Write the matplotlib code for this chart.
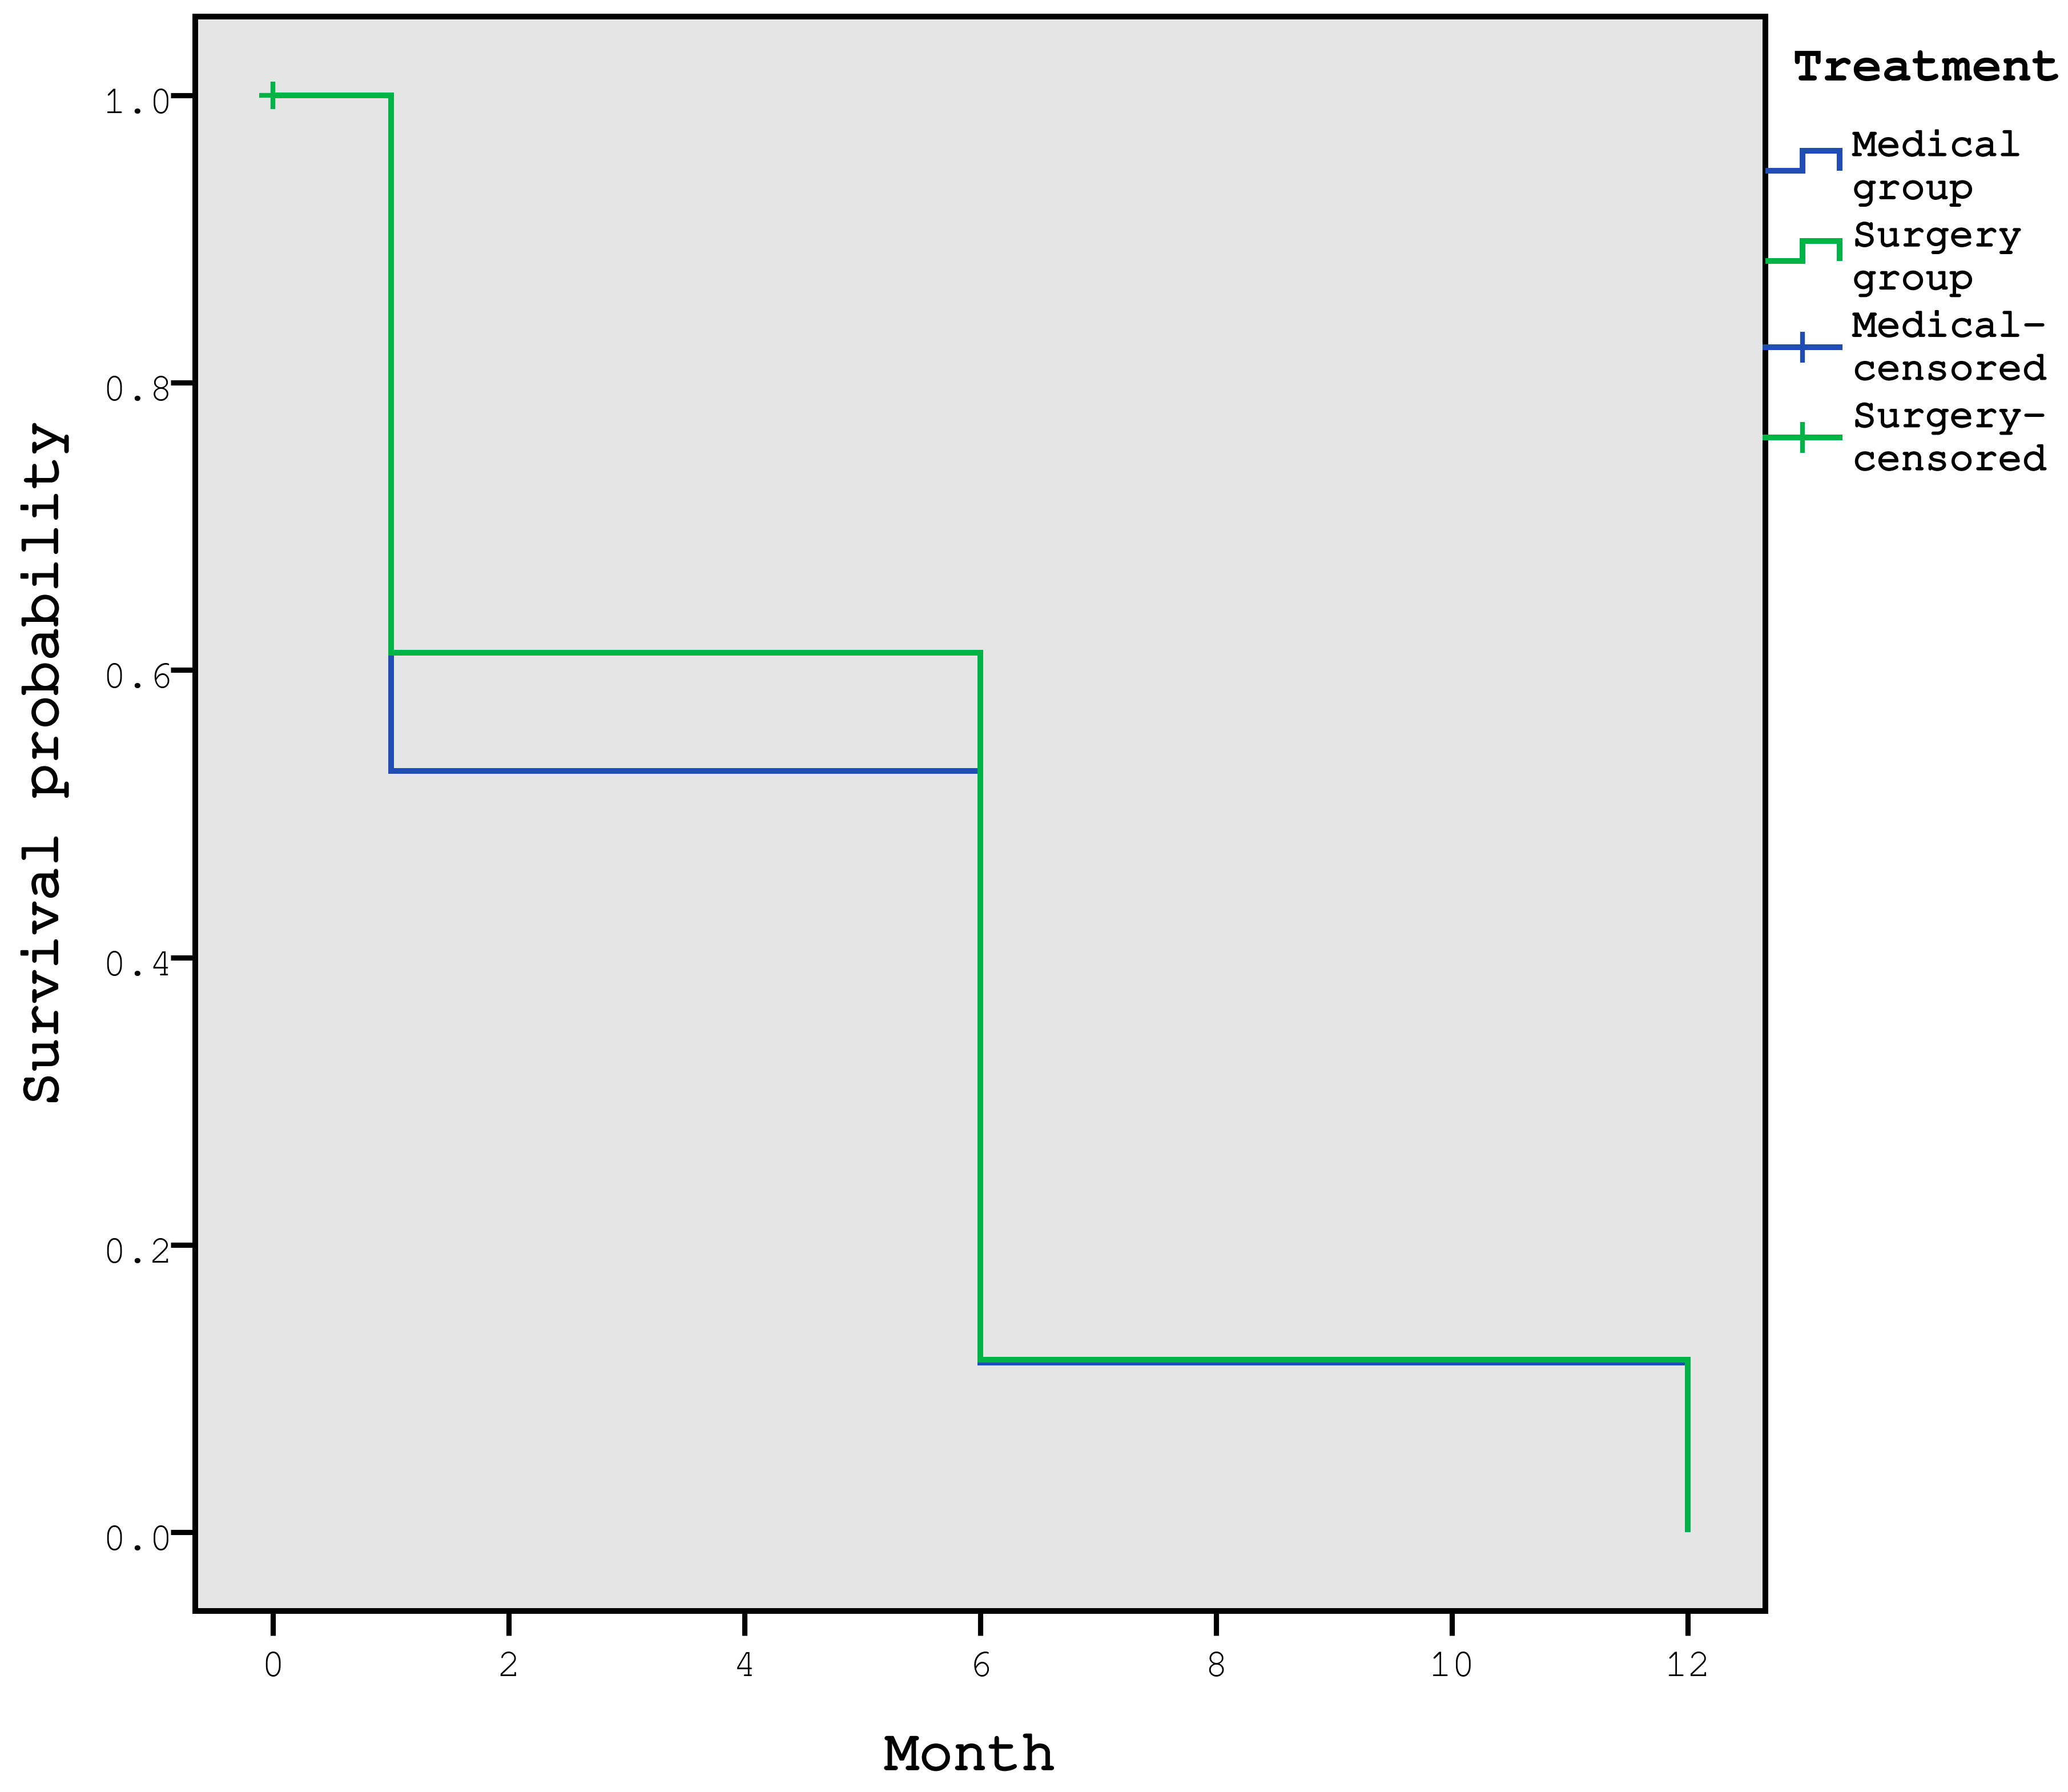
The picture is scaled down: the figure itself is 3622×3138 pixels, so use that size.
import numpy as np
import matplotlib
matplotlib.use("Agg")
import matplotlib.pyplot as plt
import matplotlib.font_manager as fm
import matplotlib.patheffects as pe
from matplotlib.lines import Line2D
from matplotlib.legend_handler import HandlerBase
from matplotlib.transforms import ScaledTranslation

# Kaplan-Meier estimates
months = [0, 1, 6, 12]
medical_surv = [1.0, 0.530, 0.118, 0.0]
surgery_surv = [1.0, 0.612, 0.120, 0.0]
surgery_censor_month = [0]
surgery_censor_surv = [1.0]

group_labels = ["Medical\ngroup", "Surgery\ngroup"]
censor_labels = ["Medical-\ncensored", "Surgery-\ncensored"]
x_ticks = [0, 2, 4, 6, 8, 10, 12]
y_ticks = [0.0, 0.2, 0.4, 0.6, 0.8, 1.0]

blue = "#1f4db4"
green = "#00b347"

# pick a courier-like font if one is there
available = {f.name for f in fm.fontManager.ttflist}
label_font = "Liberation Mono"
for name in ["Courier New", "Nimbus Mono PS", "FreeMono", "Courier"]:
    if name in available:
        label_font = name
        break
tick_font = label_font

# regular courier is too thin, thicken it a bit (SPSS output looks medium)
medium = [pe.withStroke(linewidth=0.9, foreground="black")]
medium_small = [pe.withStroke(linewidth=0.7, foreground="black")]


class StepHandler(HandlerBase):
    # SPSS style legend key: low, step up, high, drop down
    def create_artists(self, legend, orig_handle, xdescent, ydescent,
                       width, height, fontsize, trans):
        x0 = -xdescent
        xm = x0 + 0.5 * width
        x1 = x0 + width
        ylo = -ydescent + 0.35 * height
        yhi = ylo + 0.7 * height
        line = Line2D([x0, xm, xm, x1, x1], [ylo, ylo, yhi, yhi, ylo],
                      color=orig_handle.get_color(),
                      lw=orig_handle.get_linewidth(),
                      solid_joinstyle="miter", solid_capstyle="butt")
        line.set_transform(trans)
        return [line]


fig = plt.figure(figsize=(3622 / 300, 3138 / 300), dpi=300)
ax = fig.add_axes([342 / 3622, 1 - 2821 / 3138, 2750 / 3622, 2792 / 3138])
ax.set_facecolor("#e5e5e5")

lw = 2.4
med_line, = ax.step(months, medical_surv, where="post", color=blue, lw=lw,
                    solid_joinstyle="miter", solid_capstyle="butt")
sur_line, = ax.step(months, surgery_surv, where="post", color=green, lw=lw,
                    solid_joinstyle="miter", solid_capstyle="butt")
ax.plot(surgery_censor_month, surgery_censor_surv, ls="none", marker="+",
        markersize=11.5, mew=2.0, color=green)

ax.set_xlim(-0.66, 12.66)
ax.set_ylim(-0.055, 1.055)
ax.set_xticks(x_ticks)
ax.set_yticks(y_ticks)
ax.set_xticklabels([str(t) for t in x_ticks])
ax.set_yticklabels(["%.1f" % t for t in y_ticks])

for s in ax.spines.values():
    s.set_linewidth(2.4)
ax.tick_params(length=10.3, width=2.2, labelsize=16.5)
ax.tick_params(axis="x", pad=7)
ax.tick_params(axis="y", pad=-1)
for lab in ax.get_xticklabels() + ax.get_yticklabels():
    lab.set_fontfamily(tick_font)
for lab in ax.get_yticklabels():
    lab.set_transform(lab.get_transform() + ScaledTranslation(0, -10 / 300, fig.dpi_scale_trans))

ax.set_xlabel("Month", fontsize=24, family=label_font, path_effects=medium)
ax.set_ylabel("Survival probability", fontsize=24, family=label_font, path_effects=medium)
ax.xaxis.set_label_coords(0.4935, -0.0992)
ax.xaxis.label.set_va("baseline")
ax.yaxis.set_label_coords(-0.088, 0.5315)
ax.yaxis.label.set_va("baseline")

handles = [Line2D([], [], color=blue, lw=lw),
           Line2D([], [], color=green, lw=lw),
           Line2D([], [], color=blue, lw=lw, marker="+", markersize=13, mew=2.0),
           Line2D([], [], color=green, lw=lw, marker="+", markersize=13, mew=2.0)]
leg = ax.legend(handles, group_labels + censor_labels,
                handler_map={handles[0]: StepHandler(), handles[1]: StepHandler()},
                loc="upper left", bbox_to_anchor=(3092 / 3622, 0.927),
                bbox_transform=fig.transFigure, borderaxespad=0, borderpad=0,
                frameon=False, handlelength=1.83, handletextpad=0.32,
                labelspacing=0.38,
                prop={"family": label_font, "size": 17})
for t in leg.get_texts():
    t.set_linespacing(1.45)
    t.set_path_effects(medium_small)

# legend title placed on its own so the gap below it matches
fig.text(3375 / 3622, 1 - 122 / 3138, "Treatment", ha="center", va="center",
         family=label_font, fontsize=21, weight="bold")

fig.savefig("out.png", dpi=300)
